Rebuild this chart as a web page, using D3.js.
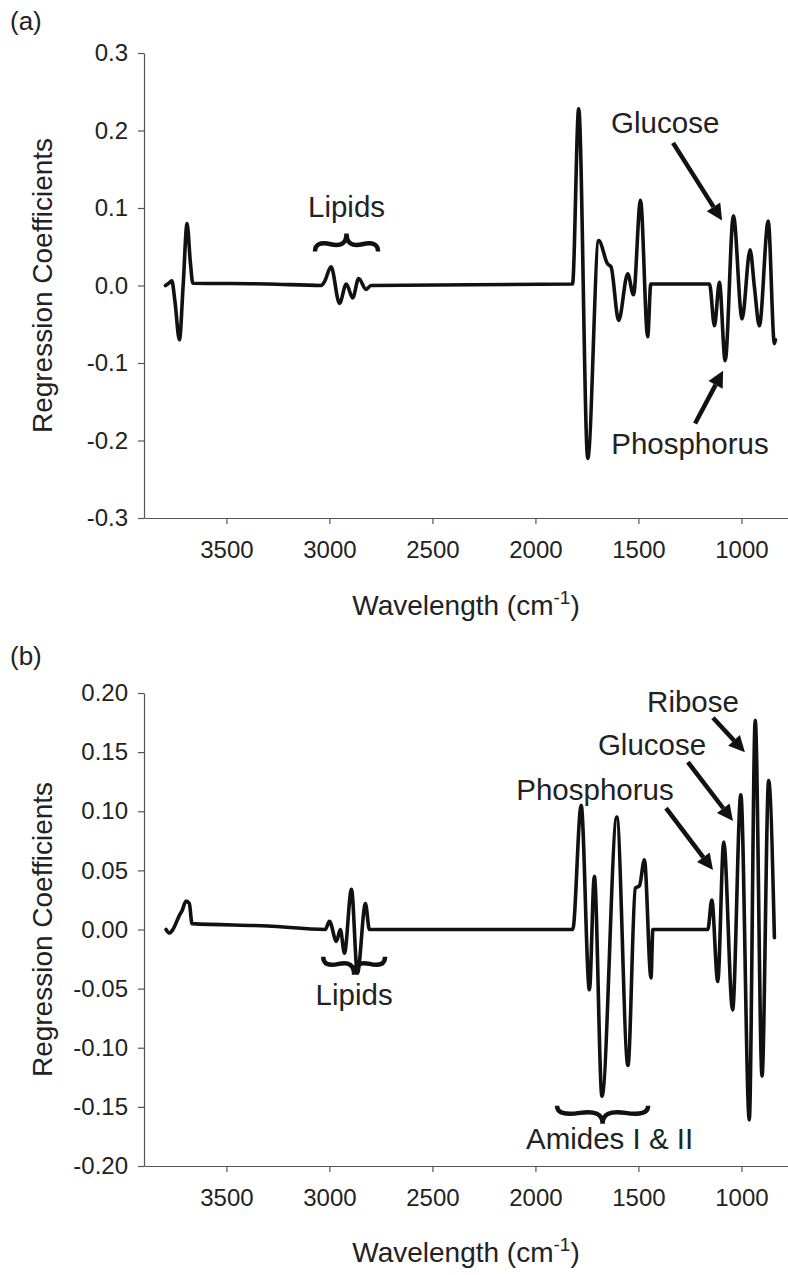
<!DOCTYPE html>
<html><head><meta charset="utf-8">
<script src="https://cdn.jsdelivr.net/npm/d3@7"></script>
<style>
html,body{margin:0;padding:0;background:#fff;}
svg text{font-family:"Liberation Sans",Arial,Helvetica,sans-serif;fill:#222;}
</style>
</head><body>
<svg id="chart" width="788" height="1275"></svg>
<script>
// ---------- data ----------
const xTicks = [3500, 3000, 2500, 2000, 1500, 1000];
const yTicksA = [-0.3, -0.2, -0.1, 0.0, 0.1, 0.2, 0.3];
const yTicksB = [-0.20, -0.15, -0.10, -0.05, 0.00, 0.05, 0.10, 0.15, 0.20];

// Panel (a) regression coefficients
const waveA = [3796, 3780, 3765, 3750, 3728, 3710, 3691, 3675, 3663, 3300, 3040, 3024, 2992, 2951, 2918, 2887, 2858, 2822, 2798,
  1820, 1790, 1746, 1693, 1650, 1633, 1596, 1552, 1524, 1490, 1455, 1440,
  1155, 1131, 1107, 1079, 1039, 997, 958, 937, 913, 870, 840, 835];
const coefA = [0.000, 0.003, 0.006, -0.020, -0.070, 0.000, 0.080, 0.030, 0.003, 0.002, 0.000, 0.005, 0.024, -0.023, 0.002, -0.016, 0.009, -0.005, 0.000,
  0.002, 0.228, -0.223, 0.058, 0.028, 0.024, -0.045, 0.015, -0.012, 0.110, -0.066, 0.002,
  0.002, -0.052, 0.004, -0.097, 0.090, -0.043, 0.046, -0.002, -0.052, 0.083, -0.075, -0.070];

// Panel (b) regression coefficients
const waveB = [3793, 3777, 3760, 3728, 3715, 3696, 3680, 3667, 3300, 3020, 3000, 2966, 2947, 2927, 2893, 2864, 2825, 2806,
  1819, 1778, 1738, 1714, 1677, 1605, 1551, 1515, 1495, 1471, 1439, 1430,
  1163, 1144, 1115, 1086, 1043, 1003, 962, 933, 900, 868, 840];
const coefB = [0.000, -0.003, 0.000, 0.012, 0.016, 0.024, 0.022, 0.005, 0.003, 0.000, 0.007, -0.010, 0.000, -0.020, 0.034, -0.037, 0.022, 0.000,
  0.000, 0.105, -0.051, 0.045, -0.141, 0.095, -0.115, 0.035, 0.037, 0.059, -0.041, 0.000,
  0.000, 0.025, -0.044, 0.074, -0.068, 0.114, -0.161, 0.177, -0.124, 0.126, -0.007];

// annotations (data units: wavenumber, coefficient)
const annotA = [
  {text: "Glucose", tx: 1370, ty: 0.197, from: [1332, 0.184], to: [1094, 0.084]},
  {text: "Phosphorus", tx: 1250, ty: -0.217, from: [1225, -0.178], to: [1089, -0.110]}
];
const bracesA = [{label: "Lipids", w1: 3070, w2: 2764, v: 0.044, dir: "up", tx: 2917, ty: 0.088}];
const annotB = [
  {text: "Ribose", tx: 1235, ty: 0.184, from: [1138, 0.179], to: [983, 0.150]},
  {text: "Glucose", tx: 1434, ty: 0.1476, from: [1260, 0.1416], to: [1041, 0.0918]},
  {text: "Phosphorus", tx: 1711, ty: 0.1095, from: [1366, 0.1027], to: [1138, 0.0503]}
];
const bracesB = [
  {label: "Lipids", w1: 3030, w2: 2730, v: -0.023, dir: "down", tx: 2880, ty: -0.064},
  {label: "Amides I & II", w1: 1895, w2: 1453, v: -0.149, dir: "down", tx: 1640, ty: -0.186}
];

// ---------- drawing ----------
const svg = d3.select("#chart");
const x = d3.scaleLinear().domain([3900, 774]).range([144, 788]);

function fmt(d, digits) {
  return d.toFixed(digits).replace("\u2212", "-");
}

function bracePath(x1, y1, x2, y2, w, q) {
  const len = Math.hypot(x1 - x2, y1 - y2);
  const dx = (x1 - x2) / len, dy = (y1 - y2) / len;
  const qx1 = x1 + q * w * dy, qy1 = y1 - q * w * dx;
  const qx2 = (x1 - .25 * len * dx) + (1 - q) * w * dy, qy2 = (y1 - .25 * len * dy) - (1 - q) * w * dx;
  const tx1 = (x1 - .5 * len * dx) + w * dy, ty1 = (y1 - .5 * len * dy) - w * dx;
  const qx3 = x2 + q * w * dy, qy3 = y2 - q * w * dx;
  const qx4 = (x1 - .75 * len * dx) + (1 - q) * w * dy, qy4 = (y1 - .75 * len * dy) - (1 - q) * w * dx;
  return `M${x1},${y1}Q${qx1},${qy1} ${qx2},${qy2}T${tx1},${ty1}M${x2},${y2}Q${qx3},${qy3} ${qx4},${qy4}T${tx1},${ty1}`;
}

function arrow(g, x1, y1, x2, y2) {
  const ang = Math.atan2(y2 - y1, x2 - x1);
  const hl = 16, hw = 8;
  const bx = x2 - hl * Math.cos(ang), by = y2 - hl * Math.sin(ang);
  g.append("line").attr("x1", x1).attr("y1", y1).attr("x2", bx).attr("y2", by)
    .attr("stroke", "#111").attr("stroke-width", 4.5);
  const px = -Math.sin(ang) * hw, py = Math.cos(ang) * hw;
  g.append("path")
    .attr("d", `M${x2},${y2}L${bx + px},${by + py}L${bx - px},${by - py}Z`)
    .attr("fill", "#111");
}

function panel(opts) {
  const {wave, coef, yDomain, yRange, yTicks, digits, label, labelY, titleY, annots, braces} = opts;
  const y = d3.scaleLinear().domain(yDomain).range(yRange);
  const g = svg.append("g");

  // y axis
  const ya = g.append("g").attr("transform", `translate(${x.range()[0]},0)`)
    .call(d3.axisLeft(y).tickValues(yTicks).tickSize(6).tickSizeOuter(0).tickPadding(10)
      .tickFormat(d => fmt(d, digits)));
  // x axis
  const xa = g.append("g").attr("transform", `translate(0,${yRange[0]})`)
    .call(d3.axisBottom(x).tickValues(xTicks).tickSize(6).tickSizeOuter(0).tickPadding(17)
      .tickFormat(d3.format("d")));
  [ya, xa].forEach(a => {
    a.select(".domain").attr("stroke", "#555").attr("stroke-width", 1.2);
    a.selectAll(".tick line").attr("stroke", "#555").attr("stroke-width", 1.2);
    a.selectAll(".tick text").attr("font-size", 24).attr("fill", "#222")
      .style("font-family", '"Liberation Sans", Arial, sans-serif');
  });

  // line
  const data = wave.map((w, i) => [w, coef[i]]);
  const line = d3.line().x(d => x(d[0])).y(d => y(d[1])).curve(d3.curveMonotoneX);
  g.append("path").datum(data).attr("d", line)
    .attr("fill", "none").attr("stroke", "#111").attr("stroke-width", 3.6)
    .attr("stroke-linejoin", "round").attr("stroke-linecap", "round");

  // axis titles
  g.append("text").attr("transform", `translate(52,${(yRange[0] + yRange[1]) / 2}) rotate(-90)`)
    .attr("text-anchor", "middle").attr("font-size", 28).text("Regression Coefficients");
  const xt = g.append("text").attr("x", (x.range()[0] + x.range()[1]) / 2).attr("y", titleY)
    .attr("text-anchor", "middle").attr("font-size", 28);
  xt.append("tspan").text("Wavelength (cm");
  xt.append("tspan").attr("font-size", 19).attr("dy", -11).text("-1");
  xt.append("tspan").attr("dy", 11).text(")");

  // panel label
  g.append("text").attr("x", 10).attr("y", labelY).attr("font-size", 26).text(label);

  // annotations
  annots.forEach(a => {
    g.append("text").attr("x", x(a.tx)).attr("y", y(a.ty)).attr("text-anchor", "middle")
      .attr("font-size", 29.5).text(a.text);
    arrow(g, x(a.from[0]), y(a.from[1]), x(a.to[0]), y(a.to[1]));
  });
  braces.forEach(b => {
    const xl = x(b.w1), xr = x(b.w2), yy = y(b.v);
    const h = 18;
    const d = b.dir === "up" ? bracePath(xr, yy, xl, yy, h, 0.6) : bracePath(xl, yy, xr, yy, h, 0.6);
    g.append("path").attr("d", d).attr("fill", "none").attr("stroke", "#111").attr("stroke-width", 4.5);
    g.append("text").attr("x", x(b.tx)).attr("y", y(b.ty)).attr("text-anchor", "middle")
      .attr("font-size", 29.5).text(b.label);
  });
}

panel({wave: waveA, coef: coefA, yDomain: [-0.3, 0.3], yRange: [518, 53], yTicks: yTicksA, digits: 1,
  label: "(a)", labelY: 30, titleY: 615, annots: annotA, braces: bracesA});
panel({wave: waveB, coef: coefB, yDomain: [-0.2, 0.2], yRange: [1166, 693], yTicks: yTicksB, digits: 2,
  label: "(b)", labelY: 665, titleY: 1262, annots: annotB, braces: bracesB});
</script>
</body></html>
